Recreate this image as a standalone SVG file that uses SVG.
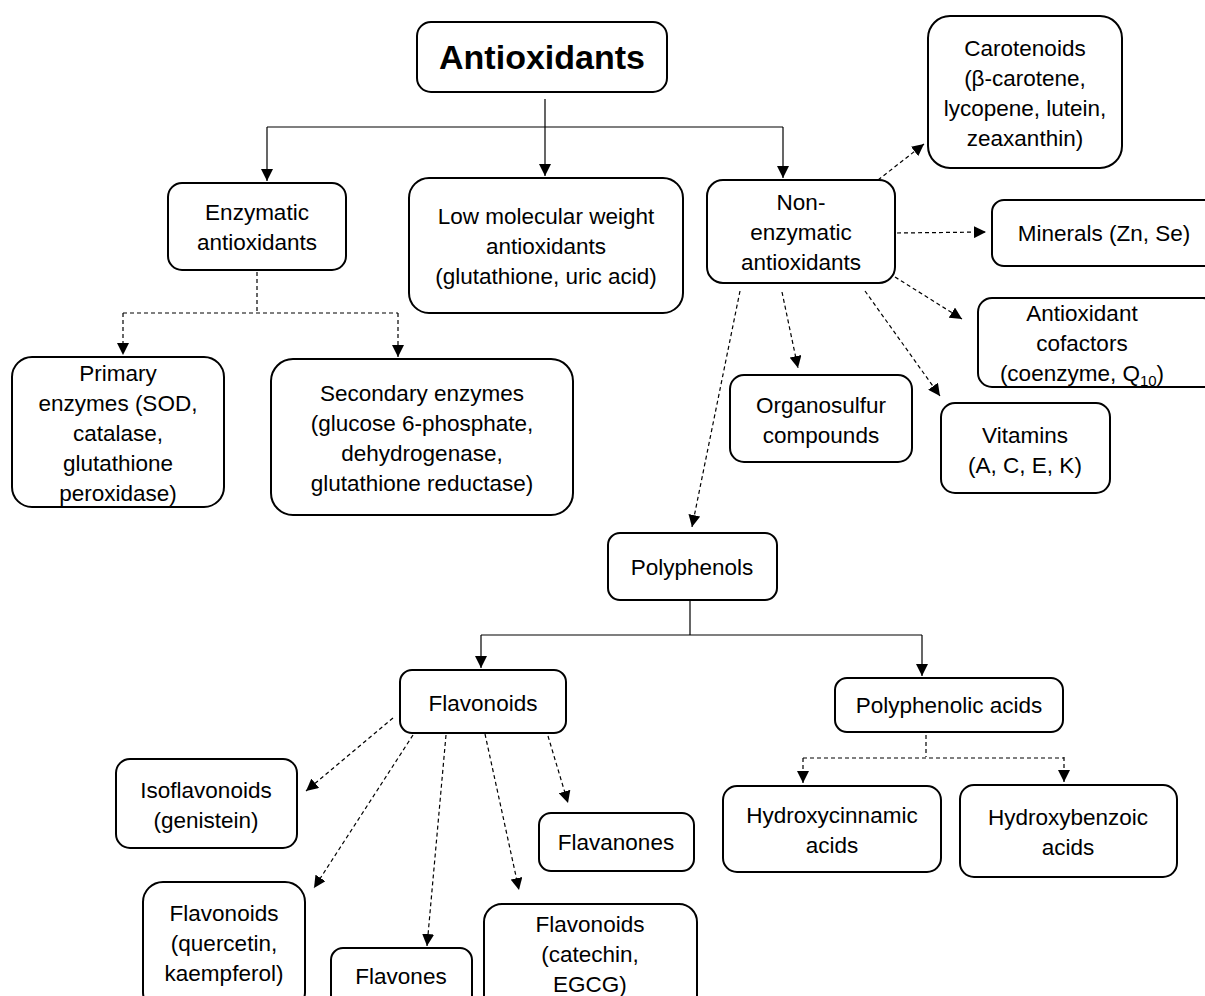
<svg xmlns="http://www.w3.org/2000/svg" width="1205" height="996" viewBox="0 0 1205 996">
<defs>
<style>
.box{fill:#fff;stroke:#000;stroke-width:2}
.t{font-family:"Liberation Sans",Arial,sans-serif;font-size:22.5px;fill:#000;text-anchor:middle}
.title{font-family:"Liberation Sans",Arial,sans-serif;font-size:34px;font-weight:bold;fill:#000;text-anchor:middle}
.ln{fill:none;stroke:#000;stroke-width:1.2}
.ds{fill:none;stroke:#000;stroke-width:1.2;stroke-dasharray:4 3}
</style>
<marker id="ah" viewBox="0 0 10 10" refX="10" refY="5" markerWidth="12" markerHeight="12" markerUnits="userSpaceOnUse" orient="auto">
<path d="M0,0 L10,5 L0,10 Z" fill="#000"/>
</marker>
</defs>
<rect width="1205" height="996" fill="#fff"/>

<g id="connectors">
<path class="ln" d="M545,99 V127 M267,127 H783"/>
<path class="ln" d="M267,127 V181" marker-end="url(#ah)"/>
<path class="ln" d="M545,127 V176" marker-end="url(#ah)"/>
<path class="ln" d="M783,127 V178" marker-end="url(#ah)"/>
<path class="ds" d="M257,272 V313 M123,313 H398"/>
<path class="ds" d="M123,313 V355" marker-end="url(#ah)"/>
<path class="ds" d="M398,313 V357" marker-end="url(#ah)"/>
<path class="ds" d="M878,180 L924,144" marker-end="url(#ah)"/>
<path class="ds" d="M897,233 L986,232" marker-end="url(#ah)"/>
<path class="ds" d="M895,277 L962,319" marker-end="url(#ah)"/>
<path class="ds" d="M865,291 L940,396" marker-end="url(#ah)"/>
<path class="ds" d="M782,292 L798,368" marker-end="url(#ah)"/>
<path class="ds" d="M740,291 L692,527" marker-end="url(#ah)"/>
<path class="ln" d="M690,600 V635 M481,635 H922"/>
<path class="ln" d="M481,635 V668" marker-end="url(#ah)"/>
<path class="ln" d="M922,635 V676" marker-end="url(#ah)"/>
<path class="ds" d="M926,735 V757 M803,758 H1064"/>
<path class="ds" d="M803,758 V783" marker-end="url(#ah)"/>
<path class="ds" d="M1064,757 V782" marker-end="url(#ah)"/>
<path class="ds" d="M393,718 L306,791" marker-end="url(#ah)"/>
<path class="ds" d="M413,735 L314,888" marker-end="url(#ah)"/>
<path class="ds" d="M446,735 L427,946" marker-end="url(#ah)"/>
<path class="ds" d="M485,734 L519,890" marker-end="url(#ah)"/>
<path class="ds" d="M548,736 L568,803" marker-end="url(#ah)"/>
</g>

<g id="antioxidants"><rect class="box" x="417" y="22" width="250" height="70" rx="14"/><text class="title" x="542" y="69">Antioxidants</text></g>
<g id="enzymatic"><rect class="box" x="168" y="183" width="178" height="87" rx="14"/><text class="t" x="257" y="220">Enzymatic</text><text class="t" x="257" y="250">antioxidants</text></g>
<g id="lmw"><rect class="box" x="409" y="178" width="274" height="135" rx="20"/><text class="t" x="546" y="224">Low molecular weight</text><text class="t" x="546" y="254">antioxidants</text><text class="t" x="546" y="284">(glutathione, uric acid)</text></g>
<g id="nonenzymatic"><rect class="box" x="707" y="180" width="188" height="103" rx="16"/><text class="t" x="801" y="210">Non-</text><text class="t" x="801" y="240">enzymatic</text><text class="t" x="801" y="270">antioxidants</text></g>
<g id="carotenoids"><rect class="box" x="928" y="16" width="194" height="152" rx="22"/><text class="t" x="1025" y="56">Carotenoids</text><text class="t" x="1025" y="86">(β-carotene,</text><text class="t" x="1025" y="116">lycopene, lutein,</text><text class="t" x="1025" y="146">zeaxanthin)</text></g>
<g id="minerals"><rect class="box" x="992" y="200" width="225" height="66" rx="12"/><text class="t" x="1104" y="241">Minerals (Zn, Se)</text></g>
<g id="cofactors"><rect class="box" x="978" y="298" width="239" height="89" rx="14"/><text class="t" x="1082" y="321">Antioxidant</text><text class="t" x="1082" y="351">cofactors</text><text class="t" x="1082" y="381">(coenzyme, Q<tspan font-size="15" dy="5">10</tspan><tspan dy="-5">)</tspan></text></g>
<g id="primary"><rect class="box" x="12" y="357" width="212" height="150" rx="20"/><text class="t" x="118" y="381">Primary</text><text class="t" x="118" y="411">enzymes (SOD,</text><text class="t" x="118" y="441">catalase,</text><text class="t" x="118" y="471">glutathione</text><text class="t" x="118" y="501">peroxidase)</text></g>
<g id="secondary"><rect class="box" x="271" y="359" width="302" height="156" rx="22"/><text class="t" x="422" y="401">Secondary enzymes</text><text class="t" x="422" y="431">(glucose 6-phosphate,</text><text class="t" x="422" y="461">dehydrogenase,</text><text class="t" x="422" y="491">glutathione reductase)</text></g>
<g id="organosulfur"><rect class="box" x="730" y="375" width="182" height="87" rx="14"/><text class="t" x="821" y="413">Organosulfur</text><text class="t" x="821" y="443">compounds</text></g>
<g id="vitamins"><rect class="box" x="941" y="403" width="169" height="90" rx="14"/><text class="t" x="1025" y="443">Vitamins</text><text class="t" x="1025" y="473">(A, C, E, K)</text></g>
<g id="polyphenols"><rect class="box" x="608" y="533" width="169" height="67" rx="12"/><text class="t" x="692" y="575">Polyphenols</text></g>
<g id="flavonoids"><rect class="box" x="400" y="670" width="166" height="63" rx="12"/><text class="t" x="483" y="711">Flavonoids</text></g>
<g id="polyphenolic"><rect class="box" x="835" y="678" width="228" height="54" rx="12"/><text class="t" x="949" y="713">Polyphenolic acids</text></g>
<g id="hydroxycinnamic"><rect class="box" x="723" y="786" width="218" height="86" rx="14"/><text class="t" x="832" y="823">Hydroxycinnamic</text><text class="t" x="832" y="853">acids</text></g>
<g id="hydroxybenzoic"><rect class="box" x="960" y="785" width="217" height="92" rx="14"/><text class="t" x="1068" y="825">Hydroxybenzoic</text><text class="t" x="1068" y="855">acids</text></g>
<g id="isoflavonoids"><rect class="box" x="116" y="759" width="181" height="89" rx="14"/><text class="t" x="206" y="798">Isoflavonoids</text><text class="t" x="206" y="828">(genistein)</text></g>
<g id="flavanones"><rect class="box" x="539" y="813" width="155" height="58" rx="12"/><text class="t" x="616" y="850">Flavanones</text></g>
<g id="quercetin"><rect class="box" x="143" y="882" width="162" height="130" rx="20"/><text class="t" x="224" y="921">Flavonoids</text><text class="t" x="224" y="951">(quercetin,</text><text class="t" x="224" y="981">kaempferol)</text></g>
<g id="flavones"><rect class="box" x="331" y="948" width="141" height="60" rx="12"/><text class="t" x="401" y="984">Flavones</text></g>
<g id="catechin"><rect class="box" x="484" y="904" width="213" height="110" rx="18"/><text class="t" x="590" y="932">Flavonoids</text><text class="t" x="590" y="962">(catechin,</text><text class="t" x="590" y="992">EGCG)</text></g>
</svg>
